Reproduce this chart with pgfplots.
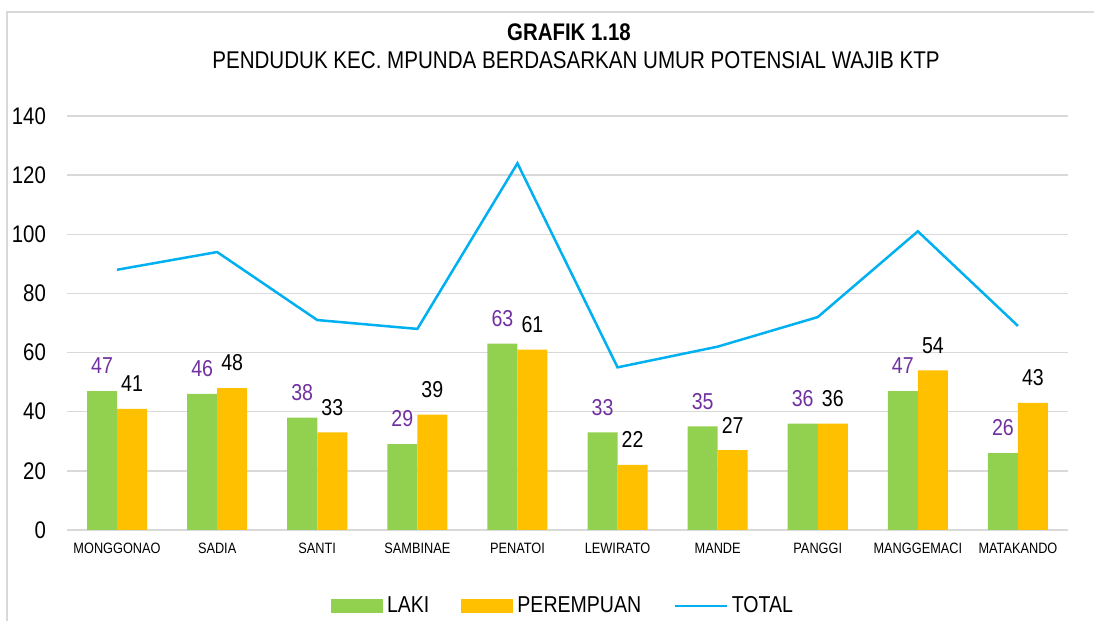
\documentclass[border=0pt]{standalone}
\usepackage{fontspec}
\setmainfont{Liberation Sans}[FakeStretch=0.85]
\usepackage{pgfplots}
\pgfplotsset{compat=1.18}
\definecolor{cgreen}{HTML}{92D050}
\definecolor{corange}{HTML}{FFC000}
\definecolor{cpurple}{HTML}{7030A0}
\definecolor{cblue}{HTML}{00B0F0}
\definecolor{cgrid}{HTML}{D9D9D9}
\pgfplotsset{
 mybarlegend/.style={legend image code/.code={\fill[##1] (0pt,-3.5pt) rectangle (26pt,3.5pt);}},
 mylinelegend/.style={legend image code/.code={\draw[##1] (0pt,0pt) -- (26pt,0pt);}},
}
\begin{document}
\begin{tikzpicture}
\useasboundingbox (0,0) rectangle (547pt,310.5pt);
\draw[cgrid, line width=0.7pt] (3.5pt,0) -- (3.5pt,304.5pt) -- (547pt,304.5pt);
\node[font=\bfseries\fontsize{12}{14}\selectfont] at (284.5pt,294.5pt) {GRAFIK 1.18};
\node[font=\fontsize{12.1}{14}\selectfont] at (288pt,280.5pt) {PENDUDUK KEC. MPUNDA BERDASARKAN UMUR POTENSIAL WAJIB KTP};
\begin{axis}[
  at={(33.5pt,45.5pt)}, anchor=south west,
  width=500.5pt, height=207pt, scale only axis,
  ymin=0, ymax=140, ytick={0,20,...,140},
  xmin=-0.5, xmax=9.5, xtick={0,...,9},
  xticklabels={MONGGONAO,SADIA,SANTI,SAMBINAE,PENATOI,LEWIRATO,MANDE,PANGGI,MANGGEMACI,MATAKANDO},
  ymajorgrids, grid style={cgrid, line width=0.7pt},
  axis line style={draw=none}, major tick length=0pt,
  /pgf/number format/assume math mode=true,
  yticklabel style={font=\fontsize{12}{14}\selectfont, xshift=-7pt},
  xticklabel style={font=\fontsize{7.5}{9}\selectfont, yshift=-3pt},
  ybar=0pt, bar width=0.3,
  legend style={at={(0.4965,-0.1836)}, anchor=center, draw=none, legend columns=3,
    font=\fontsize{11.5}{13}\selectfont,
    /tikz/every even column/.append style={column sep=14pt}},
]
\addplot[fill=cgreen, draw=none, mybarlegend, nodes near coords,
  every node near coord/.append style={color=cpurple, font=\fontsize{11.5}{13}\selectfont, yshift=5pt}]
  coordinates {(0,47) (1,46) (2,38) (3,29) (4,63) (5,33) (6,35) (7,36) (8,47) (9,26)};
\addlegendentry{LAKI}
\addplot[fill=corange, draw=none, mybarlegend, nodes near coords,
  every node near coord/.append style={color=black, font=\fontsize{11.5}{13}\selectfont, yshift=5pt}]
  coordinates {(0,41) (1,48) (2,33) (3,39) (4,61) (5,22) (6,27) (7,36) (8,54) (9,43)};
\addlegendentry{PEREMPUAN}
\addplot[sharp plot, no marks, color=cblue, line width=1.25pt, mylinelegend]
  coordinates {(0,88) (1,94) (2,71) (3,68) (4,124) (5,55) (6,62) (7,72) (8,101) (9,69)};
\addlegendentry{TOTAL}
\end{axis}
\end{tikzpicture}
\end{document}
